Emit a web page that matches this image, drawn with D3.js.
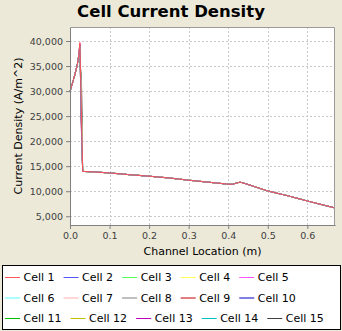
<!DOCTYPE html>
<html>
<head>
<meta charset="utf-8">
<script src="https://cdn.jsdelivr.net/npm/d3@7"></script>
<style>
  body { margin: 0; background: #ECE9D8; }
  svg { display: block; font-family: "DejaVu Sans", sans-serif; }
</style>
</head>
<body>
<script>

// channel locations (m), shared by every cell
const locations = [0, 0.006, 0.012, 0.0185, 0.022, 0.025, 0.029, 0.032, 0.05, 0.1, 0.15, 0.2,
  0.25, 0.3, 0.35, 0.4, 0.41, 0.43, 0.45, 0.5, 0.55, 0.6, 0.64, 0.668];

// current density of cell 1 (A/m^2)
const baseDensity = [29900, 31500, 33200, 35300, 37000, 39700, 25000, 13950, 13900, 13650, 13300, 13000,
  12650, 12200, 11800, 11400, 11380, 11820, 11350, 10050, 9100, 8050, 7250, 6700];

// the cells differ only around the inlet spike
const cellNames = ["Cell 1", "Cell 2", "Cell 3", "Cell 4", "Cell 5", "Cell 6", "Cell 7", "Cell 8",
  "Cell 9", "Cell 10", "Cell 11", "Cell 12", "Cell 13", "Cell 14", "Cell 15"];
const cellPeak = [39700, 39300, 39000, 38800, 39500, 39100, 39600, 37200, 39400, 38600, 38900, 38400, 39200, 38700, 36000];
const cellDrop = [25000, 22600, 24000, 26000, 23500, 25500, 24500, 30900, 22200, 27000, 23000, 28000, 21500, 26500, 32300];

const cellColors = ["#FF5555", "#5555FF", "#55FF55", "#FFFF55", "#FF55FF", "#55FFFF", "#FFAFAF", "#808080",
  "#C00000", "#0000C0", "#00C000", "#C0C000", "#C000C0", "#00C0C0", "#404040"];

const xTicks = [0, 0.1, 0.2, 0.3, 0.4, 0.5, 0.6];
const yTicks = [5000, 10000, 15000, 20000, 25000, 30000, 35000, 40000];

let margin = null,
  width = null,
  height = null;

let svg = null, plot = null;
let x, y = null; // scales

main();

function main() {
  setupCanvasSize();
  appendSvg("body");
  setupXScale();
  setupYScale();
  appendPlotBackground();
  appendGrid();
  appendLineCharts();
  appendXAxis();
  appendYAxis();
  addTitle();
  addAxisLabels();
  addLegend();
}

function setupCanvasSize() {
  margin = { top: 27, left: 70, bottom: 106, right: 7 };
  width = 342 - margin.left - margin.right;
  height = 331 - margin.top - margin.bottom;
}

function appendSvg(domElement) {
  svg = d3.select(domElement).append("svg")
    .attr("width", 342)
    .attr("height", 331);
  plot = svg.append("g")
    .attr("transform", `translate(${margin.left}, ${margin.top})`);
}

function setupXScale() {
  x = d3.scaleLinear()
    .range([0, width])
    .domain([0, 0.67]);
}

function setupYScale() {
  y = d3.scaleLinear()
    .range([height, 0])
    .domain([3250, 42800]);
}

function appendPlotBackground() {
  plot.append("rect")
    .attr("width", width)
    .attr("height", height)
    .attr("fill", "#fff");
}

function appendGrid() {
  plot.selectAll(".vgrid")
    .data(xTicks.slice(1))
    .enter()
    .append("line")
    .attr("x1", d => Math.round(x(d)) + 0.5)
    .attr("x2", d => Math.round(x(d)) + 0.5)
    .attr("y1", 0)
    .attr("y2", height)
    .attr("stroke", "#c8c8c8")
    .attr("stroke-dasharray", "2,2");

  plot.selectAll(".hgrid")
    .data(yTicks)
    .enter()
    .append("line")
    .attr("x1", 0)
    .attr("x2", width)
    .attr("y1", d => Math.round(y(d)) + 0.5)
    .attr("y2", d => Math.round(y(d)) + 0.5)
    .attr("stroke", "#c8c8c8")
    .attr("stroke-dasharray", "2,2");
}

function appendLineCharts() {
  var valueline = d3.line()
    .x(function (d) { return x(d[0]); })
    .y(function (d) { return y(d[1]); });

  var series = cellNames.map(function (name, i) {
    var values = baseDensity.slice();
    values[5] = cellPeak[i];
    values[6] = cellDrop[i];
    return { name: name, color: cellColors[i], points: locations.map((l, j) => [l, values[j]]) };
  });

  // cell 1 ends up on top
  plot.selectAll(".line")
    .data(series.slice().reverse())
    .enter()
    .append("path")
    .attr("class", "line")
    .attr("fill", "none")
    .attr("stroke", d => d.color)
    .attr("stroke-width", 1)
    .attr("d", d => valueline(d.points));
}

function appendXAxis() {
  var g = plot.append("g")
    .attr("transform", `translate(0, ${height})`)
    .call(d3.axisBottom(x).tickValues(xTicks).tickFormat(d3.format(".1f")).tickSize(4).tickSizeOuter(0).tickPadding(3));
  styleAxis(g);
}

function appendYAxis() {
  var g = plot.append("g")
    .call(d3.axisLeft(y).tickValues(yTicks).tickFormat(d3.format(",")).tickSize(4).tickSizeOuter(0).tickPadding(3));
  styleAxis(g);
  // plot outline on the other two sides
  plot.append("path")
    .attr("d", `M0.5,0.5H${width - 0.5}V${height}`)
    .attr("fill", "none")
    .attr("stroke", "#9a9a9a");
}

function styleAxis(g) {
  g.select(".domain").attr("stroke", "#808080");
  g.selectAll(".tick line").attr("stroke", "#808080");
  g.selectAll(".tick text")
    .attr("fill", "#404040")
    .style("font-size", "9.5px")
    .style("font-family", "DejaVu Sans");
}

function addTitle() {
  svg.append("text")
    .attr("x", 171)
    .attr("y", 16.5)
    .attr("text-anchor", "middle")
    .style("font-size", "16.5px")
    .style("font-weight", "bold")
    .text("Cell Current Density");
}

function addAxisLabels() {
  svg.append("text")
    .attr("x", margin.left + width / 2)
    .attr("y", 254.5)
    .attr("text-anchor", "middle")
    .style("font-size", "11px")
    .text("Channel Location (m)");

  svg.append("text")
    .attr("transform", `translate(22, ${margin.top + height / 2}) rotate(-90)`)
    .attr("text-anchor", "middle")
    .style("font-size", "11px")
    .text("Current Density (A/m^2)");
}

function addLegend() {
  svg.append("rect")
    .attr("x", 2.5)
    .attr("y", 265.5)
    .attr("width", 338)
    .attr("height", 64)
    .attr("fill", "#fff")
    .attr("stroke", "#000");

  var perRow = 5;
  var rowY = [277, 297.5, 318];
  var cursor = 5;
  cellNames.forEach(function (name, i) {
    if (i % perRow === 0) cursor = 5;
    var cy = rowY[Math.floor(i / perRow)];
    var item = svg.append("g").attr("transform", `translate(${cursor}, ${cy})`);
    item.append("line")
      .attr("x1", 0)
      .attr("x2", 15)
      .attr("y1", 0.5)
      .attr("y2", 0.5)
      .attr("stroke", cellColors[i]);
    var label = item.append("text")
      .attr("x", 18.5)
      .attr("y", 4)
      .style("font-size", "11px")
      .text(name);
    cursor += 18.5 + label.node().getComputedTextLength() + 9;
  });
}

</script>
</body>
</html>
